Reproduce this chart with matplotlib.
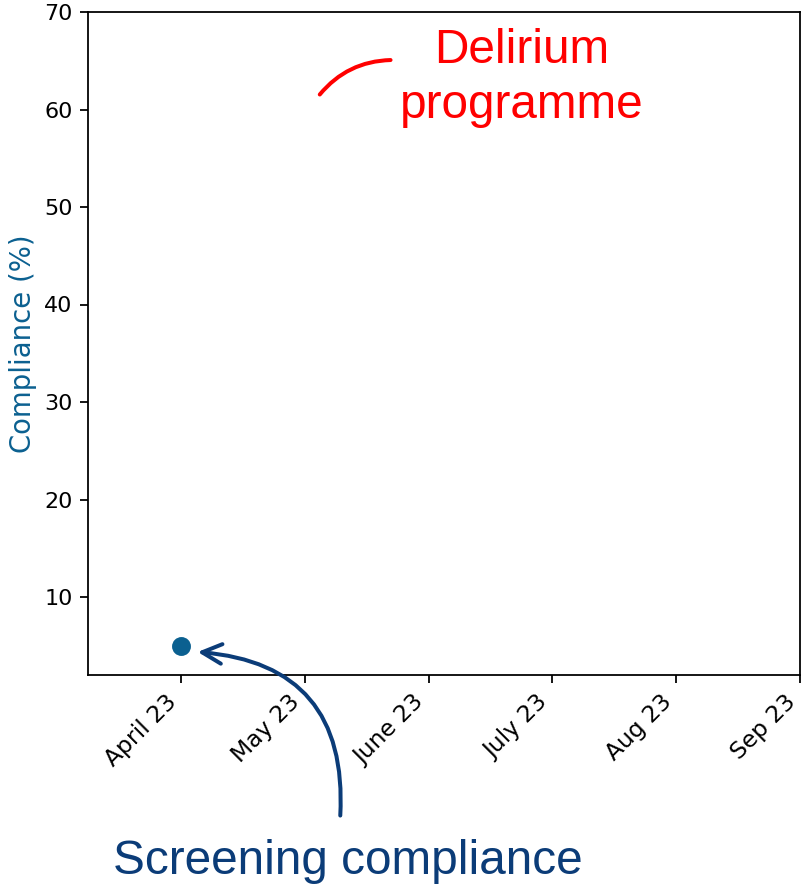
import matplotlib.pyplot as plt

months = ["April 23", "May 23", "June 23", "July 23", "Aug 23", "Sep 23"]
compliance = [5.0]

point_colour = "#0b6090"
note_blue = "#0b3c78"

fig = plt.figure(figsize=(803 / 160, 886 / 160), dpi=160)
ax = fig.add_axes([88 / 803, 211 / 886, 712 / 803, 663 / 886])

x = list(range(len(months)))
ax.plot(x[: len(compliance)], compliance, "o", color=point_colour, ms=7.5)

ax.set_xlim(-0.75, 5.0)
ax.set_ylim(2, 70)
ax.set_yticks([10, 20, 30, 40, 50, 60, 70])
ax.set_xticks(x)
ax.set_xticklabels(months, rotation=45, ha="right", fontsize=10.5)
ax.set_ylabel("Compliance (%)", color=point_colour, fontsize=12.4, labelpad=3)

# big notes outside the plot
fig.text(522 / 803, 1 - 78 / 886, "Delirium\nprogramme", color="red",
         fontsize=21.5, family="Liberation Sans", ha="center", va="center",
         linespacing=1.3)
fig.text(348 / 803, 1 - 862 / 886, "Screening compliance", color=note_blue,
         fontsize=21.5, family="Liberation Sans", ha="center", va="center")

ax.annotate("", xy=(0.1, 4.4), xycoords="data",
            xytext=(340 / 803, 1 - 820 / 886), textcoords="figure fraction",
            arrowprops=dict(arrowstyle="->", color=note_blue, lw=1.8,
                            mutation_scale=22,
                            connectionstyle="arc3,rad=0.5"),
            annotation_clip=False)
ax.annotate("", xy=(317 / 803, 1 - 98 / 886), xycoords="figure fraction",
            xytext=(395 / 803, 1 - 60 / 886), textcoords="figure fraction",
            arrowprops=dict(arrowstyle="-", color="red", lw=1.8,
                            connectionstyle="arc3,rad=0.25"))

fig.savefig("out.png", dpi=160)
